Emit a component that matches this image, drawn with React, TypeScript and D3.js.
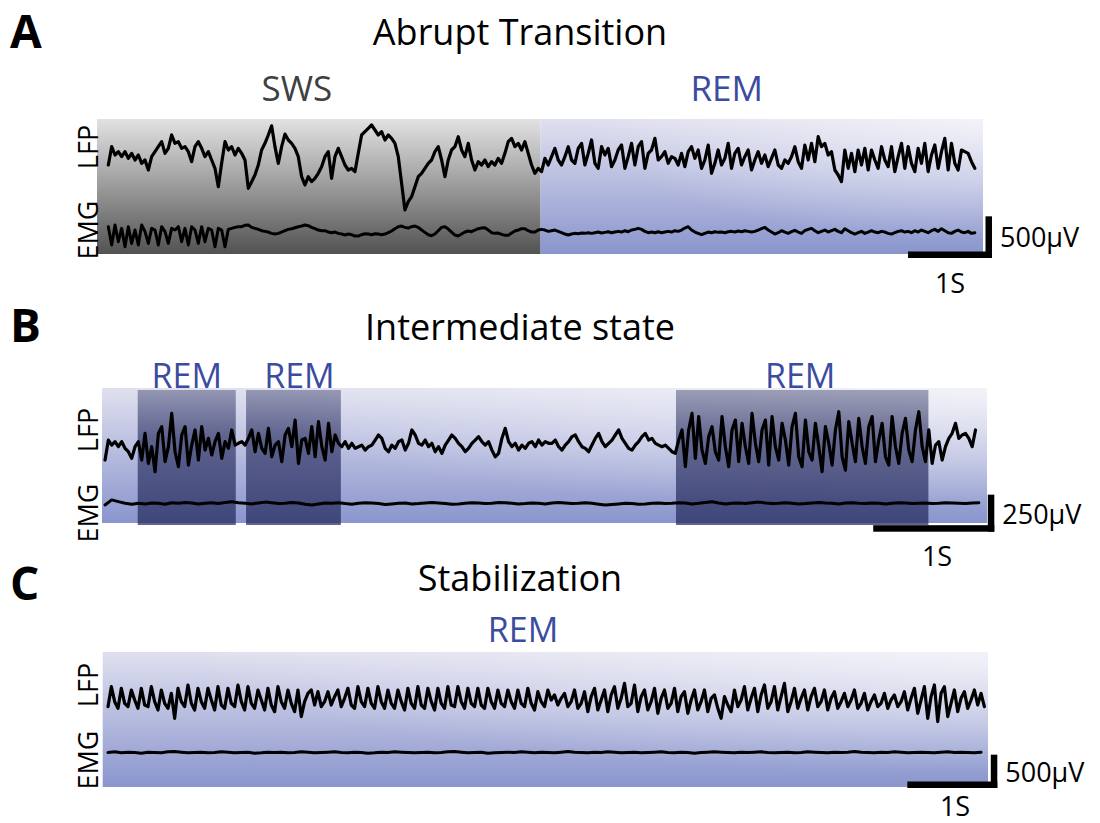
import React from "react";
import * as d3 from "d3";

// ---------- DATA ----------
// Panel A: abrupt transition SWS -> REM. LFP / EMG in µV, uniform sampling.
const aLfp = [
  -60, 160, 60, 100, 40, 100, 20, 80, 0, 60,
  -40, 0, -120, 40, 100, 160, 220, 80, 140, 300,
  200, 220, 140, 160, 100, -20, 160, 220, 140, 40,
  100, 0, -100, -320, -40, 220, 120, 160, 60, 140,
  80, 0, -340, -260, -180, -60, 120, 200, 300, 410,
  160, -40, 160, 310, 240, 200, 140, 40, -200, -300,
  -200, -260, -220, -160, -80, 40, 100, -220, 40, 140,
  40, -60, -120, -100, -140, 80, 300, 340, 380, 420,
  360, 300, 340, 240, 300, 260, 200, 40, -280, -600,
  -500, -440, -320, -200, -160, -100, -40, 0, 100, 160,
  0, -200, 0, 120, 160, 280, 120, 40, 200, 0,
  -120, -20, -60, 0, -80, -20, -60, 20, -40, 80,
  220, 260, 160, 200, 120, 220, 80, -60, -160, -100,
  -140, 20, -60, 40, 140, 0, -60, 40, 160, 0,
  -40, 140, 200, -60, 80, 240, -40, -100, 160, 60,
  140, -80, 0, 120, 180, -100, 40, 200, -60, 160,
  220, -100, 80, 120, 260, 0, 40, 100, -40, 40,
  20, -60, 80, -80, 100, 160, 20, 120, -100, 0,
  180, -160, -40, 120, -60, 20, 200, -100, 80, 140,
  -60, 40, 120, -120, 0, 100, -40, 60, -80, 20,
  120, -60, -100, 0, -40, 40, 160, -20, -100, 180,
  0, 200, -20, 280, 160, 200, 60, 100, -120, -180,
  -260, 120, -100, 80, -140, 120, -60, 140, -120, 120,
  0, -100, 160, 0, -80, 160, -140, 40, 200, -100,
  160, -40, -140, 140, -40, 200, -140, 60, 180, -100,
  100, 260, -120, 200, -40, -120, 120, 100, 80, -20,
  -100,
];
const aEmg = [
  60, -160, 80, -120, 40, -180, 60, -140, 20, -160,
  80, 0, -140, 40, 20, -160, 60, 0, -140, 40,
  20, 60, -120, 40, -160, 60, 20, -140, 60, -120,
  40, 20, -180, 40, 20, -180,
  28, 40, 52, 60, 60, 76, 80, 52, 40, 28,
  12, 4, -4, -20, -28, -20, -4, 12, 28, 36,
  48, 60, 68, 80, 72, 52, 36, 20, 12, 12,
  -4, -12, -4, -20, -28, -40, -28, -36, -52, -52,
  -36, -24, -28, -36, -24, -28, -36, -28, -12, 8,
  36, 60, 68, 52, 44, 60, 68, 52, 20, -8,
  -36, -48, -28, 12, 52, 60, 32, -4, -40, -52,
  -28, -4, 8, 0, 20, 36, 44, 48, 20, -12,
  -20, -16, -32, -44, -44, -16, 8, 20, 36, 36,
  12, -4, -4, 20,
  28, 20, 4, 12, 20, 4, -12, -28, -40, -28,
  -20, -24, -16, -20, -12, -20, -12, -4, -16, -8,
  0, -12, -4, 4, -4, 12, 0, 20, 28, 40,
  28, 4, -12, -4, -12, 0, -12, -4, 4, -4,
  12, 4, 20, 44, 60, 20, -4, -20, -36, -20,
  -4, -12, 0, -8, -4, -12, 0, 4, -4, 8,
  0, 12, 4, -4, 4, 20, 36, 52, 20, -4,
  -28, -12, 12, -4, -20, 0, 16, -4, -20, 12,
  28, 40, 12, -12, 4, 20, -4, 12, 28, 4,
  -12, 36, 12, -12, -28, -12, 4, -20, -4, 12,
  -4, -12, 4, -4, -20, -28, -12, 4, 12, -4,
  4, -12, 12, -4, 20, 4, -12, 12, 28, 4,
  36, 12, -12, -20, 4, 20, -4, -12, 4, -20,
  -12,
];

// Panel B: intermediate state
const bLfp = [
  -90, 45, 11, 34, 0, 34, -11, -34, -79, 0,
  34, -90, 90, -113, 0, -169, 90, 135, -101, 0,
  225, -34, -135, 79, 135, -124, 11, 113, -90, 135,
  -23, 56, -56, 34, 90, -79, 34, -11, 113, 11,
  23, 34, 11, 56, 113, -34, 90, -11, -45, 124,
  -68, 11, 34, -101, 79, 124, 0, 180, -113, 45,
  56, -45, 135, -68, 169, 0, -90, 158, -34, 79,
  23, 0, 34, -11, 23, -11, 0, 11, -23, 0,
  11, 45, 79, 56, -11, -34, 11, -11, 34, 45,
  -23, 23, 113, 79, 23, 11, 45, 0, 23, -34,
  0, -45, 11, 45, 79, 56, 23, 0, -34, -11,
  23, 45, 68, 34, 11, 34, -23, -68, -45, 56,
  124, 34, 0, 23, -23, 11, -11, 23, 34, 0,
  45, 11, 34, 23,
  23, 45, 0, -23, 11, 34, 68, 79, 34, 0,
  -11, -34, 11, 56, 90, 34, 0, 23, 45, 79,
  113, 56, 23, -11, -23, 11, 34, 68, 90, 45,
  56, 23, 11, 0, 11, -11, -34, -45, 45, 113,
  -135, 113, 225, -79, 203, -23, -113, 68, 135, -34,
  -90, 203, 0, -135, 113, 180, -101, 158, 0, -113,
  225, 23, -101, 113, 180, -124, 203, 0, -90, 158,
  45, -124, 135, 225, -68, -135, 180, -34, -90, 158,
  0, -169, 135, 23, -124, 113, 236, -68, -158, 169,
  23, -101, 191, 0, -113, 135, 203, -101, 45, 158,
  -68, -124, 203, 0, -113, 90, 191, -23, -101, 113,
  236, 0, -101, 113, -113, 11, 34, -90, 0, 56,
  90, 158, 56, 79, 90, 56, 0, 113,
];
const bEmg = [
  -11, 23, 11, 0, -6, 0, -4, 2, 0, -6,
  4, 0, 6, 2, -4, 0, 4, -2, 6, 11,
  4, 0, -4, 2, 8, 4, -2, 0, 6, 2,
  -6, -11, -4, 2, 0, 4, -2, -6, 0, 4,
  2, -2, -8, -4, 0, 2, -4, -2, 2, 6,
  2, -2, -6, -4, 0, 4, 2, -2, 0, 6,
  4, 0, -4, -2, 2, 0, -4, 2, 6, 2,
  -2, 0, 4, 0, -6, -11, -8, -4, 0, -2,
  -6, -4, 0, 2, -2, 0, 4, 2, -4, 0,
  6, 11, 2, -4, 0, 2, -2, 4, 8, 2,
  -2, 0, 4, 0, -4, -2, 2, 6, 2, 0,
  -4, 2, 4, 0, -2, 2, 0, -4, 0, 4,
  2, -2, 0, 2, -2, 0, 4, 2, 0, -2,
  2, 4,
];

// Panel C: stabilization
const cLfp = [
  -100, 200, -25, -125, 175, -50, -100, 150, 0, -125,
  175, -75, -100, 200, -25, -150, 150, -50, -125, 100,
  -275, 175, -25, -100, 225, -50, -150, 175, -25, -125,
  175, 0, -150, 200, -75, -125, 175, -50, -100, 225,
  -25, -150, 200, -50, -125, 150, 0, -150, 175, -75,
  -175, 200, -25, -125, 150, -50, -175, 150, -250, -25,
  100, 150, -75, 125, -100, -25, 125, -75, 50, 150,
  -100, 25, 175, -75, -125, 200, -25, -100, 175, -50,
  -125, 200, -25, -125, 150, -50, -125, 150, -25, -150,
  175, -50, -125, 200, -75, -125, 175, -25, -150, 175,
  -50, -125, 200, -75, -100, 200, -25, -125, 175, -50,
  -100, 175, -75, -125, 175, -25, -125, 150, -50, -100,
  150, -25, -125, 150, -50, -100, 175, -50, -150, 125,
  -25, -100, 150,
  0, 75, -75, 25, 100, -100, -25, 150, -125, -50,
  125, -175, 50, 175, -150, 0, 150, -175, 75, 200,
  -125, 25, 250, -100, -50, 225, -175, 50, 150, -150,
  -25, 175, -200, 25, 150, -125, -50, 175, -175, 50,
  125, -200, 0, 150, -150, -25, 150, -175, 25, 75,
  -125, -275, 50, -75, -175, 150, -100, 0, 200, -150,
  25, 175, -175, 75, 225, -125, -25, 200, -150, 50,
  250, -175, -25, 175, -125, 25, 150, -150, 50, 175,
  -100, -25, 150, -150, 25, 125, -125, -25, 100, -100,
  0, 150, -125, -50, 100, -150, -25, 75, -100, -50,
  100, -125, 0, 75, -100, -25, 125, -150, 25, 175,
  -200, 0, 200, -275, 50, 225, -325, 100, 200, -250,
  -50, 150, -175, 25, 125, -125, 0, 150, -75, 100,
  -100,
];
const cEmg = [
  0, 10, -5, 5, 0, -10, 5, 0, -5, 10,
  15, 5, -5, 0, 5, -5, 0, 10, 5, -5,
  0, 5, -10, -5, 5, 0, 5, -5, 0, 10,
  5, -5, 0, 5, 10, 0, -5, 5, 0, -10,
  -5, 5, 0, 10, 5, 0, -5, 0, 5, -5,
  0, 10, 15, 5, -5, 0, 5, -10, -5, 0,
  5, 0, 10, 5, -5, 5, 0, -5, 5, 15,
  5, 0, -5, 5, 0, 10, 5, -5, 0, 5,
  -5, 0, 5, 10, 0, -5, 5, 0, -10, 0,
  5, 10, 5, 0, -5, 5, 0, 5, 10, 0,
  -5, 0, 5, -5, 0, 10, 5, 0, -5, 5,
  0, 5, 15, 5, 0, -5, 5, 0, 10, 5,
  -5, 0, 5, 0, -5, 5, 10, 0, 5, 0,
  -5, 5,
];

// sampling (Hz) and start offsets (s), window durations (s)
const aLfpRate = 25.2, aEmgRate = 25.2, aStart = 0.135, aDuration = 10.55;
const bLfpRate = 36.3, bEmgRate = 18.15, bStart = 0.025, bDuration = 7.31;
const cLfpRate = 27, cEmgRate = 13.5, cStart = 0.059, cDuration = 9.84;
// state epochs (s)
const aStates = [
  { label: "SWS", start: 0, end: 5.282 },
  { label: "REM", start: 5.282, end: 10.55 },
];
const bRemEpochs = [
  [0.295, 1.105],
  [1.19, 1.973],
  [4.741, 6.826],
];
const cStates = [{ label: "REM", start: 0, end: 9.84 }];
// scale bars
const aBar = { sec: 1, uv: 500, label: "500μV" };
const bBar = { sec: 1, uv: 250, label: "250μV" };
const cBar = { sec: 1, uv: 500, label: "500μV" };
const titles = ["Abrupt Transition", "Intermediate state", "Stabilization"];
const letters = ["A", "B", "C"];

// ---------- DRAWING ----------
const FONT = "'Open Sans', 'Noto Sans', sans-serif";
const REM_BLUE = "#3b4ca0";

function trace(values: number[], rate: number, start: number, x: any, y: any) {
  return (
    d3
      .line<number>()
      .x((_, i) => x(start + i / rate))
      .y((v) => y(v))(values) || ""
  );
}

function ScaleBar({ right, bottom, w, h, label, labelY, secY, secX }: any) {
  const t = 6.5;
  return (
    <g>
      <rect x={right - t} y={bottom - h} width={t} height={h} fill="#000" />
      <rect x={right - w} y={bottom - t} width={w} height={t} fill="#000" />
      <text x={right + 8} y={labelY} fontFamily={FONT} fontSize={27} fill="#000">
        {label}
      </text>
      <text x={secX} y={secY} fontFamily={FONT} fontSize={27} fill="#000" textAnchor="middle">
        1S
      </text>
    </g>
  );
}

function SideLabels({ x, lfpY, emgY }: any) {
  return (
    <g fontFamily={FONT} fontSize={27} fill="#000">
      <text transform={`translate(${x},${lfpY}) rotate(-90)`} textAnchor="middle">
        LFP
      </text>
      <text transform={`translate(${x},${emgY}) rotate(-90)`} textAnchor="middle">
        EMG
      </text>
    </g>
  );
}

export default function App() {
  // Panel A scales
  const xA = d3.scaleLinear().domain([0, aDuration]).range([97, 983]);
  const yAl = d3.scaleLinear().domain([-600, 600]).range([160 + 50, 160 - 50]);
  const yAe = d3.scaleLinear().domain([-600, 600]).range([231.7 + 50, 231.7 - 50]);
  // Panel B
  const xB = d3.scaleLinear().domain([0, bDuration]).range([102, 987]);
  const yBl = d3.scaleLinear().domain([-270, 270]).range([446.7 + 40, 446.7 - 40]);
  const yBe = d3.scaleLinear().domain([-270, 270]).range([503.3 + 40, 503.3 - 40]);
  // Panel C
  const xC = d3.scaleLinear().domain([0, cDuration]).range([102.7, 988]);
  const yCl = d3.scaleLinear().domain([-600, 600]).range([700 + 40, 700 - 40]);
  const yCe = d3.scaleLinear().domain([-600, 600]).range([752.5 + 40, 752.5 - 40]);

  const lineStyle = {
    fill: "none",
    stroke: "#000",
    strokeLinejoin: "round" as const,
    strokeLinecap: "round" as const,
  };

  return (
    <div style={{ position: "absolute", left: 0, top: 0, width: 1100, height: 823, background: "#fff" }}>
      <svg width={1100} height={823} viewBox="0 0 1100 823">
        <defs>
          <linearGradient id="gSws" x1="0" y1="0" x2="0" y2="1">
            <stop offset="0" stopColor="#e2e2e2" />
            <stop offset="0.45" stopColor="#a2a2a2" />
            <stop offset="1" stopColor="#525252" />
          </linearGradient>
          <linearGradient id="gRem" x1="0" y1="0" x2="0" y2="1">
            <stop offset="0" stopColor="#e0e0ef" />
            <stop offset="1" stopColor="#8995cd" />
          </linearGradient>
          <radialGradient id="gGlow" cx="1" cy="0" r="0.9" fx="1" fy="0">
            <stop offset="0" stopColor="#fff" stopOpacity="0.6" />
            <stop offset="1" stopColor="#fff" stopOpacity="0" />
          </radialGradient>
          <linearGradient id="gDark" x1="0" y1="0" x2="0" y2="1">
            <stop offset="0" stopColor="#23285a" stopOpacity="0.4" />
            <stop offset="0.35" stopColor="#23285a" stopOpacity="0.62" />
            <stop offset="1" stopColor="#23285a" stopOpacity="0.72" />
          </linearGradient>
        </defs>

        {/* Panel letters and titles */}
        {letters.map((l, i) => (
          <text key={l} x={10} y={[48, 342, 600][i]} fontFamily={FONT} fontWeight={700} fontSize={46}>
            {l}
          </text>
        ))}
        {titles.map((t, i) => (
          <text key={t} x={520} y={[45, 340, 591][i]} fontFamily={FONT} fontSize={36} textAnchor="middle">
            {t}
          </text>
        ))}

        {/* ---------------- Panel A ---------------- */}
        {aStates.map((s) => (
          <rect
            key={s.label}
            x={xA(s.start)}
            y={119}
            width={xA(s.end) - xA(s.start)}
            height={135}
            fill={s.label === "SWS" ? "url(#gSws)" : "url(#gRem)"}
          />
        ))}
        <rect x={xA(aStates[1].start)} y={119} width={xA(aStates[1].end) - xA(aStates[1].start)} height={135} fill="url(#gGlow)" />
        {aStates.map((s) => (
          <text
            key={"t" + s.label}
            x={(xA(s.start) + xA(s.end)) / 2 - (s.label === "SWS" ? 22 : 35)}
            y={101}
            fontFamily={FONT}
            fontSize={35}
            textAnchor="middle"
            fill={s.label === "SWS" ? "#404040" : REM_BLUE}
          >
            {s.label}
          </text>
        ))}
        <path d={trace(aLfp, aLfpRate, aStart, xA, yAl)} {...lineStyle} strokeWidth={3.2} />
        <path d={trace(aEmg, aEmgRate, aStart, xA, yAe)} {...lineStyle} strokeWidth={3} />
        <SideLabels x={98} lfpY={147} emgY={230} />
        <ScaleBar
          right={992}
          bottom={258}
          w={xA(aBar.sec) - xA(0)}
          h={yAl(0) - yAl(aBar.uv)}
          label={aBar.label}
          labelY={247}
          secX={950}
          secY={293}
        />

        {/* ---------------- Panel B ---------------- */}
        <rect x={xB(0)} y={388} width={xB(bDuration) - xB(0)} height={135} fill="url(#gRem)" />
        <rect x={xB(0)} y={388} width={xB(bDuration) - xB(0)} height={135} fill="url(#gGlow)" />
        {bRemEpochs.map(([s, e], i) => (
          <g key={"rem" + i}>
            <rect x={xB(s)} y={390} width={xB(e) - xB(s)} height={135} fill="url(#gDark)" />
            <text
              x={(xB(s) + xB(e)) / 2 + [0, 6, -2][i]}
              y={388}
              fontFamily={FONT}
              fontSize={34}
              textAnchor="middle"
              fill={REM_BLUE}
            >
              REM
            </text>
          </g>
        ))}
        <path d={trace(bLfp, bLfpRate, bStart, xB, yBl)} {...lineStyle} strokeWidth={3.2} />
        <path d={trace(bEmg, bEmgRate, bStart, xB, yBe)} {...lineStyle} strokeWidth={3} />
        <SideLabels x={98} lfpY={430} emgY={513} />
        <ScaleBar
          right={994.3}
          bottom={531.7}
          w={xB(bBar.sec) - xB(0)}
          h={yBl(0) - yBl(bBar.uv)}
          label={bBar.label}
          labelY={524}
          secX={937}
          secY={566}
        />

        {/* ---------------- Panel C ---------------- */}
        <rect x={xC(0)} y={652} width={xC(cDuration) - xC(0)} height={135} fill="url(#gRem)" />
        <rect x={xC(0)} y={652} width={xC(cDuration) - xC(0)} height={135} fill="url(#gGlow)" />
        {cStates.map((s) => (
          <text
            key={"c" + s.label}
            x={523}
            y={642}
            fontFamily={FONT}
            fontSize={34}
            textAnchor="middle"
            fill={REM_BLUE}
          >
            {s.label}
          </text>
        ))}
        <path d={trace(cLfp, cLfpRate, cStart, xC, yCl)} {...lineStyle} strokeWidth={3.2} />
        <path d={trace(cEmg, cEmgRate, cStart, xC, yCe)} {...lineStyle} strokeWidth={3} />
        <SideLabels x={98} lfpY={685} emgY={760} />
        <ScaleBar
          right={997.3}
          bottom={788}
          w={xC(cBar.sec) - xC(0)}
          h={yCl(0) - yCl(cBar.uv)}
          label={cBar.label}
          labelY={782}
          secX={955}
          secY={816}
        />
      </svg>
    </div>
  );
}
